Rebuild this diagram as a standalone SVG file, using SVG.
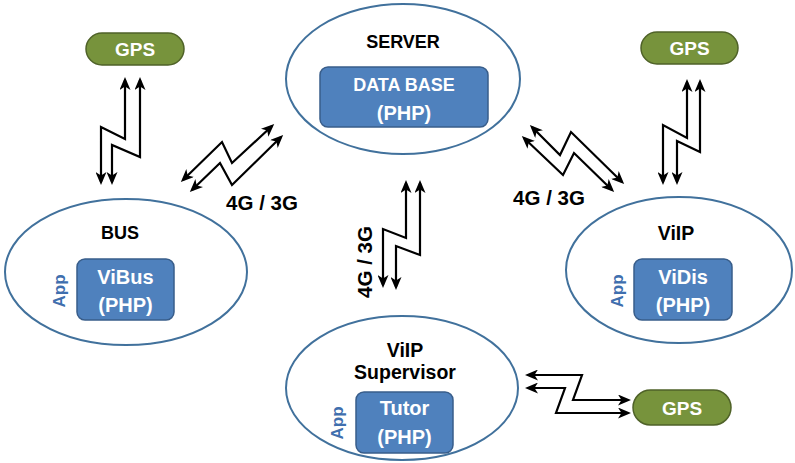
<svg xmlns="http://www.w3.org/2000/svg" width="795" height="463" viewBox="0 0 795 463">
<style>
.ell{fill:#fff;stroke:#41719C;stroke-width:2}
.box{fill:#4F81BD;stroke:#385D8A;stroke-width:1.5}
.gps{fill:#77933C;stroke:#4F6228;stroke-width:1.5}
.t{font-family:"Liberation Sans",Arial,sans-serif;font-weight:bold;font-size:18px;text-anchor:middle}
.k{fill:#000}
.w{fill:#fff}
.s{font-size:20px}
.n{font-size:19.5px}
.g{font-size:19px}
.app{fill:#3F6FAE;font-size:17px}
.lbl{font-size:20.5px}
.arr{fill:none;stroke:#000;stroke-width:2.2;stroke-linejoin:miter;marker-start:url(#ah);marker-end:url(#ah)}
</style>
<defs>
<marker id="ah" markerUnits="userSpaceOnUse" markerWidth="13" markerHeight="11" viewBox="0 0 13 11" refX="10" refY="5.5" orient="auto-start-reverse">
<path d="M0,0 L13,5.5 L0,11 L3.5,5.5 z" fill="#000"/>
</marker>
</defs>

<g id="server">
<ellipse class="ell" cx="403" cy="79" rx="117" ry="75"/>
<text class="t k" x="403" y="48">SERVER</text>
<rect class="box" x="320" y="67" width="168" height="60" rx="8"/>
<text class="t w" x="404" y="91">DATA BASE</text>
<text class="t w s" x="404" y="120">(PHP)</text>
</g>

<g id="bus">
<ellipse class="ell" cx="126" cy="272" rx="121" ry="73"/>
<text class="t k" x="120" y="239">BUS</text>
<rect class="box" x="77" y="259" width="97" height="61" rx="8"/>
<text class="t w s" x="125.500" y="284">ViBus</text>
<text class="t w s" x="125.500" y="312">(PHP)</text>
<text class="t app" transform="translate(65,291) rotate(-90)">App</text>
</g>

<g id="viip">
<ellipse class="ell" cx="679" cy="270" rx="113" ry="73"/>
<text class="t k n" x="676" y="240">ViIP</text>
<rect class="box" x="634" y="259" width="98" height="61" rx="8"/>
<text class="t w s" x="683" y="284">ViDis</text>
<text class="t w s" x="683" y="312">(PHP)</text>
<text class="t app" transform="translate(623,291) rotate(-90)">App</text>
</g>

<g id="supervisor">
<ellipse class="ell" cx="402" cy="388" rx="116" ry="72"/>
<text class="t k n" x="405" y="357">ViIP</text>
<text class="t k n" x="405" y="379">Supervisor</text>
<rect class="box" x="356" y="392" width="97" height="61" rx="8"/>
<text class="t w s" x="404.500" y="415">Tutor</text>
<text class="t w s" x="404.500" y="444">(PHP)</text>
<text class="t app" transform="translate(343,423) rotate(-90)">App</text>
</g>

<g id="gps-bus">
<rect class="gps" x="86" y="33" width="98" height="32" rx="16"/>
<text class="t w g" x="135" y="56">GPS</text>
</g>
<g id="gps-viip">
<rect class="gps" x="641" y="32" width="97" height="32" rx="16"/>
<text class="t w g" x="689.500" y="55">GPS</text>
</g>
<g id="gps-supervisor">
<rect class="gps" x="633" y="390" width="98" height="35" rx="17.500"/>
<text class="t w g" x="682" y="414.500">GPS</text>
</g>

<g id="connectors">
<polyline class="arr" points="101,182 101,127 125,139 125,80"/>
<polyline class="arr" points="112,182 112,145 140,157 140,80"/>
<polyline class="arr" points="183,180 222,142 232,163 272,126"/>
<polyline class="arr" points="192,190 220,163 232,185 281,137"/>
<polyline class="arr" points="532,127 560,155 571,132 622,182"/>
<polyline class="arr" points="524,138 563,175 574,153 612,190"/>
<polyline class="arr" points="406,183 406,238 383,229 383,285"/>
<polyline class="arr" points="420,183 420,255 396,246 396,287"/>
<polyline class="arr" points="687,82 687,138 663,125 663,182"/>
<polyline class="arr" points="700,82 700,152 677,141 677,182"/>
<polyline class="arr" points="528,375 582,375 573,400 628,400"/>
<polyline class="arr" points="528,388 565,388 556,413 628,413"/>
<text class="t k lbl" x="262" y="210">4G / 3G</text>
<text class="t k lbl" x="549" y="205">4G / 3G</text>
<text class="t k lbl" transform="translate(372,262) rotate(-90)">4G / 3G</text>
</g>
</svg>
